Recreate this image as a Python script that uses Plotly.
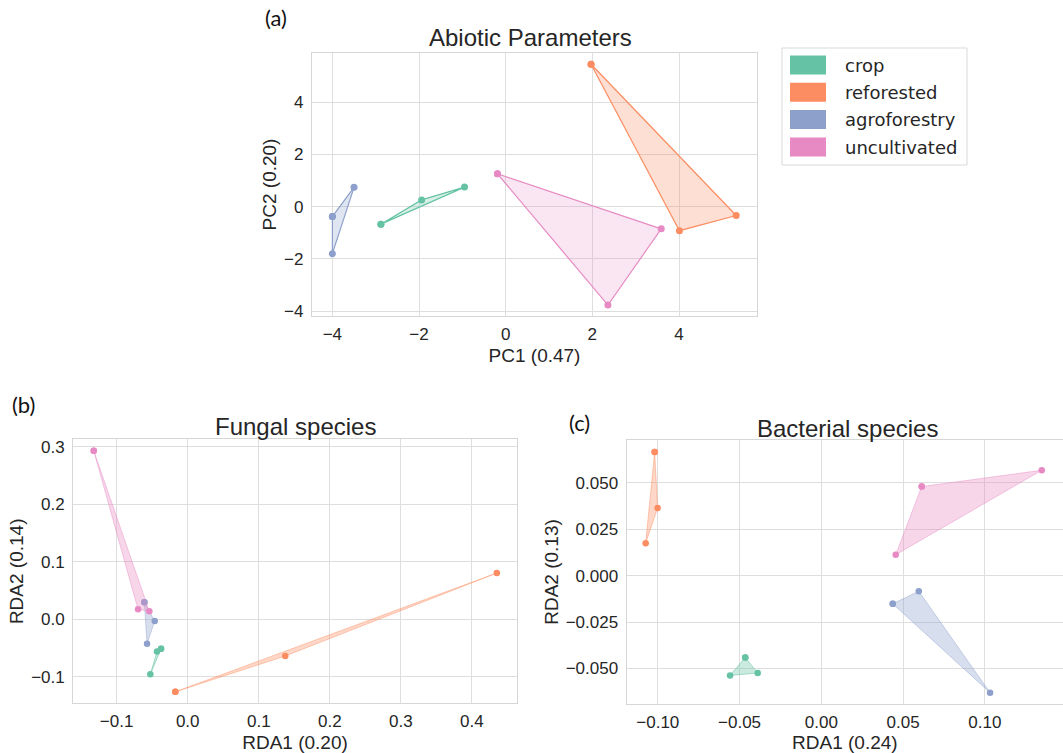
import plotly.graph_objects as go

W, H = 1063, 753

groups = ["crop", "reforested", "agroforestry", "uncultivated"]
colors = ["#66c2a5", "#fc8d62", "#8da0cb", "#e78ac3"]
fills_a = ["rgba(102,194,165,0.25)", "rgba(252,141,98,0.28)", "rgba(141,160,203,0.28)", "rgba(231,138,195,0.22)"]
fills_bc = ["rgba(102,194,165,0.35)", "rgba(252,141,98,0.35)", "rgba(141,160,203,0.35)", "rgba(231,138,195,0.35)"]
lines_bc = ["rgba(102,194,165,0.55)", "rgba(252,141,98,0.45)", "rgba(141,160,203,0.45)", "rgba(231,138,195,0.45)"]

# (a) Abiotic Parameters: PC1 / PC2, per group
abiotic_pc1 = [[-2.88, -1.94, -0.95], [1.97, 5.32, 4.01], [-4.00, -4.00, -3.50], [-0.19, 3.59, 2.36]]
abiotic_pc2 = [[-0.67, 0.26, 0.75], [5.46, -0.34, -0.92], [-0.38, -1.80, 0.74], [1.26, -0.85, -3.77]]

# (b) Fungal species: RDA1 / RDA2
fungal_rda1 = [[-0.0375, -0.0432, -0.0526], [-0.0174, 0.1373, 0.435], [-0.0610, -0.0464, -0.0572], [-0.1322, -0.0699, -0.0540]]
fungal_rda2 = [[-0.051, -0.056, -0.0957], [-0.126, -0.0638, 0.0805], [0.0296, -0.003, -0.0424], [0.293, 0.0174, 0.0139]]

# (c) Bacterial species: RDA1 / RDA2
bact_rda1 = [[-0.0465, -0.0558, -0.0389], [-0.1019, -0.1001, -0.1074], [0.0437, 0.0596, 0.1032], [0.0614, 0.1348, 0.0455]]
bact_rda2 = [[-0.0440, -0.0537, -0.0524], [0.0666, 0.0365, 0.0175], [-0.0151, -0.0084, -0.0630], [0.0480, 0.0568, 0.0113]]

titles = ["Abiotic Parameters", "Fungal species", "Bacterial species"]
xlabels = ["PC1 (0.47)", "RDA1 (0.20)", "RDA1 (0.24)"]
ylabels = ["PC2 (0.20)", "RDA2 (0.14)", "RDA2 (0.13)"]
panel_labels = ["(a)", "(b)", "(c)"]

x_ticks_a = [-4, -2, 0, 2, 4]
y_ticks_a = [-4, -2, 0, 2, 4]
x_ticks_b = [-0.1, 0.0, 0.1, 0.2, 0.3, 0.4]
y_ticks_b = [-0.1, 0.0, 0.1, 0.2, 0.3]
x_ticks_c = [-0.10, -0.05, 0.0, 0.05, 0.10]
y_ticks_c = [-0.050, -0.025, 0.0, 0.025, 0.050]

TXT = "#262626"
GRID = "#dedede"
FONT = "Liberation Sans, Arial, sans-serif"

fig = go.Figure()

def add_panel(xs, ys, xa, ya, fills, lines, msize, lw):
    for i, g in enumerate(groups):
        x = list(xs[i]) + [xs[i][0]]
        y = list(ys[i]) + [ys[i][0]]
        fig.add_trace(go.Scatter(
            x=x, y=y, xaxis=xa, yaxis=ya, name=g, mode="lines+markers",
            fill="toself", fillcolor=fills[i],
            line=dict(color=lines[i], width=lw),
            marker=dict(color=colors[i], size=msize),
            showlegend=False, hoverinfo="skip"))

add_panel(abiotic_pc1, abiotic_pc2, "x", "y", fills_a, colors, 7, 1.2)
add_panel(fungal_rda1, fungal_rda2, "x2", "y2", fills_bc, lines_bc, 6.5, 1.0)
add_panel(bact_rda1, bact_rda2, "x3", "y3", fills_bc, lines_bc, 6.5, 1.0)

def px_x(p):
    return p / W

def px_y(p):
    return 1 - p / H

common = dict(showgrid=True, gridcolor=GRID, gridwidth=1, zeroline=False,
              showline=True, linecolor="#d6d6d6", linewidth=1.3, mirror=True,
              ticks="", tickfont=dict(family=FONT, size=17, color=TXT),
              title_font=dict(family=FONT, size=19, color=TXT))

panels = [
    # x domain px, y domain px, xrange, yrange, xticks, yticks, xfmt, yfmt
    ((312, 757), (53, 316), (-4.47, 5.80), (-4.19, 5.89), x_ticks_a, y_ticks_a, "d", "d"),
    ((73.3, 516.7), (439.3, 703.3), (-0.161, 0.463), (-0.146, 0.313), x_ticks_b, y_ticks_b, ".1f", ".1f"),
    ((626.7, 1063), (440, 704), (-0.119, 0.1478), (-0.0691, 0.0731), x_ticks_c, y_ticks_c, ".2f", ".3f"),
]
title_pos = [(530, 38), (295.5, 426), (847, 428)]

layout = dict(width=W, height=H, margin=dict(l=0, r=0, t=0, b=0), autosize=False,
              paper_bgcolor="white", plot_bgcolor="white", showlegend=False)

ann = []
for k, (xd, yd, xr, yr, xt, yt, xf, yf) in enumerate(panels):
    sx = "" if k == 0 else str(k + 1)
    layout["xaxis" + sx] = dict(common, domain=[px_x(xd[0]), px_x(xd[1])], range=list(xr),
                                tickvals=xt, tickformat=xf, anchor="y" + sx,
                                title=dict(text=xlabels[k], standoff=6),
                                ticklabelstandoff=2, automargin=False)
    layout["yaxis" + sx] = dict(common, domain=[px_y(yd[1]), px_y(yd[0])], range=list(yr),
                                tickvals=yt, tickformat=yf, anchor="x" + sx,
                                title=dict(text=ylabels[k], standoff=2),
                                ticklabelstandoff=4, automargin=False)
    tx, ty = title_pos[k]
    ann.append(dict(text=titles[k], xref="paper", yref="paper",
                    x=px_x(tx), y=px_y(ty), xanchor="center", yanchor="middle", showarrow=False,
                    font=dict(family=FONT, size=24, color=TXT)))

label_pos = [(276, 18), (23, 404), (579, 423)]
for k, (lx, ly) in enumerate(label_pos):
    ann.append(dict(text=panel_labels[k], xref="paper", yref="paper",
                    x=px_x(lx), y=px_y(ly), xanchor="center", yanchor="middle",
                    showarrow=False, font=dict(family="Lato, Open Sans, sans-serif", size=22, color="#111111")))

# legend (built from the group names and colours)
shapes = [dict(type="rect", xref="paper", yref="paper",
               x0=px_x(782), x1=px_x(967), y0=px_y(165), y1=px_y(48),
               line=dict(color="#d9d9d9", width=1), fillcolor="white", layer="above")]
row_y = [65, 92.3, 119.6, 147]
for i, g in enumerate(groups):
    shapes.append(dict(type="rect", xref="paper", yref="paper",
                       x0=px_x(790), x1=px_x(826), y0=px_y(row_y[i] + 9.5), y1=px_y(row_y[i] - 9.5),
                       line=dict(width=0), fillcolor=colors[i], layer="above"))
    ann.append(dict(text=g, xref="paper", yref="paper", x=px_x(843), y=px_y(row_y[i]),
                    xanchor="left", yanchor="middle", showarrow=False,
                    font=dict(family="DejaVu Sans, sans-serif", size=18, color=TXT)))

layout["annotations"] = ann
layout["shapes"] = shapes
fig.update_layout(**layout)

fig.write_html("out.html")
